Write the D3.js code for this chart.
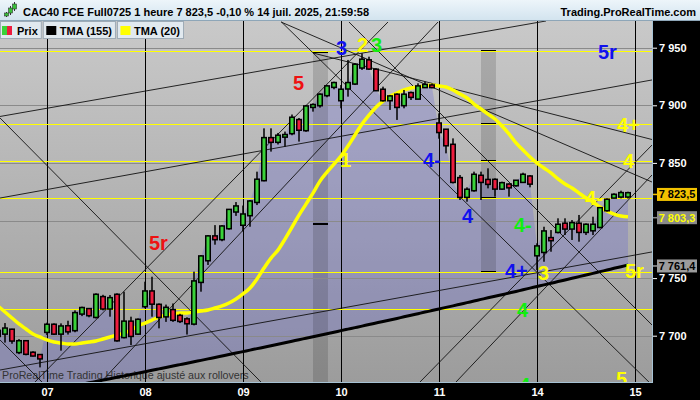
<!DOCTYPE html>
<html><head><meta charset="utf-8">
<script src="https://cdn.jsdelivr.net/npm/d3@7"></script>
<style>
html,body{margin:0;padding:0;background:#000;}
svg{display:block;}
text{font-family:"Liberation Sans",Arial,sans-serif;}
</style></head><body>
<svg id="c" width="700" height="400"></svg>
<script>
// ---------- DATA ----------
const titleText = "CAC40 FCE Full0725 1 heure 7 823,5 -0,10 % 14 juil. 2025, 21:59:58";
const siteText = "Trading.ProRealTime.com";
const legendItems = ["Prix", "TMA (155)", "TMA (20)"];
const watermark = "ProRealTime Trading  Historique ajusté aux rollovers";

const opens = [7700,7702,7705,7686,7695,7685,7683,7703.5,7709.3,7702,
 7708,7705,7719.4,7722.9,7716.5,7733.3,7723.8,7735.3,7699,7712,
 7702,7725.8,7738.2,7726.6,7717,7722,7717,7714,7710.7,7746.9,
 7765.7,7786,7784,7793.5,7808,7796.5,7804.8,7816.3,7835.2,7871.3,
 7868.5,7873,7876,7887,7878.6,7898.8,7900.3,7909,7916.2,7904.6,
 7914.8,7919.1,7933,7938.8,7930.7,7913.3,7904.6,7909,7900.3,7910.4,
 7906,7916,7917,7884,7878.6,7865.5,7836.6,7820.7,7826.5,7838.6,
 7835,7835.1,7827.9,7831,7830.8,7833.7,7838,7770,7772.9,7784.5,
 7790.3,7797,7793.2,7797,7790.3,7791.7,7794.6,7809.1,7820.1,7821,
 7821];
const highs = [7708,7711,7706,7697,7696,7686.5,7684,7711.3,7710.7,7710.7,
 7713,7722,7725.2,7724,7736.8,7735.5,7735.3,7736.8,7738.2,7716.5,
 7715,7746.9,7751.2,7728,7727,7728,7719,7716,7755.6,7770,
 7787.4,7796,7796,7810,7816,7813,7817.8,7842.4,7880,7880,
 7876,7877.2,7892,7889,7900.3,7901.7,7910.4,7917.5,7920.5,7917.6,
 7939.4,7936.5,7945.1,7942.2,7932.1,7916.2,7909,7910.4,7913.3,7911.9,
 7919.1,7920.5,7919,7893,7878.6,7871.3,7839.5,7828.8,7842.4,7842.4,
 7845.3,7836.6,7833.7,7832.2,7835.1,7841.5,7839.5,7780.2,7794.6,7791.7,
 7801.9,7801.9,7800.4,7804.8,7797.5,7803.3,7810.5,7819.2,7823.6,7825.9,
 7825];
const lows = [7696,7694,7693,7684,7683,7682,7672.5,7700.6,7700.6,7687,
 7701,7703,7717,7716,7715,7722,7716.5,7694.8,7697.7,7691.9,
 7700.6,7723.8,7716.5,7706.4,7712,7712,7711,7701,7709,7738.2,
 7761.4,7779,7782,7792,7804,7790.5,7794.6,7813.4,7834,7859.8,
 7866,7864.1,7874,7868.5,7877,7894.5,7898,7907,7913.9,7897.4,
 7907.5,7917.6,7930.7,7930.7,7913.3,7903.2,7896,7887.3,7897.4,7904.6,
 7906,7915,7914.8,7871,7858.3,7832.2,7817.8,7816.3,7825,7817.8,
 7827.9,7820.7,7826.5,7820.7,7829.4,7832.8,7828.8,7757,7764.2,7772.9,
 7788.8,7787.4,7783.1,7781.6,7787.4,7787.4,7793.2,7807.7,7819.2,7819.2,
 7819];
const closes = [7704,7706,7696,7695,7684.5,7683,7680.5,7709.3,7702,7707.8,
 7704,7719.4,7723.8,7718,7735.3,7723.8,7732.4,7696.2,7712,7700,
 7713.6,7738.2,7728,7716.5,7724,7714,7713,7711,7746.9,7768.6,
 7786,7784,7794.6,7809,7812,7805,7816.3,7835.2,7871.3,7868.5,
 7873.4,7874,7889,7879,7898.8,7900,7909,7916.2,7919.1,7913.3,
 7919.1,7935,7939.4,7932.1,7913.3,7904.6,7907.5,7898.8,7909,7907.5,
 7916.2,7917.5,7916,7877,7865.5,7833.7,7820.7,7826.5,7839.5,7833.7,
 7832,7827.9,7832.2,7829,7834.3,7839.5,7832.2,7777.3,7790.3,7783.1,
 7796.1,7793.2,7797.5,7790.3,7796.1,7796.1,7810.5,7817.8,7822.1,7823.6,
 7823.5];
const tma20 = [7725.8,7720.6,7715.4,7710.2,7705.8,7701.5,7698.9,7696.3,7694.5,7693.7,
 7692.8,7692.8,7693.7,7694.5,7695.4,7697.1,7698.9,7700.6,7702.3,7704.9,
 7708.4,7711.0,7713.6,7716.2,7717.9,7718.8,7719.7,7719.7,7720.6,7721.4,
 7722.3,7724.0,7725.8,7728.4,7731.8,7736.2,7741.4,7749.2,7758.7,7767.4,
 7774.3,7783.9,7794.3,7804.7,7814.2,7823.8,7834.2,7842.0,7849.0,7855.9,
 7864.6,7874.2,7883.7,7891.5,7898.4,7903.7,7908.0,7910.6,7913.3,7915.0,
 7915.9,7916.8,7917.6,7916.8,7915.9,7913.3,7909.8,7906.3,7901.1,7896.8,
 7892.4,7888.1,7882.0,7875.1,7867.3,7861.2,7855.1,7849.9,7845.6,7841.3,
 7836.1,7831.7,7828.2,7823.8,7819.5,7816.0,7811.7,7808.2,7805.6,7803.9,
 7803.3];
const tma155 = [7643.8,7645.0,7646.1,7647.3,7648.4,7649.6,7650.8,7651.9,7653.1,7654.3,
 7655.5,7656.7,7657.9,7659.1,7660.3,7661.5,7662.7,7663.9,7665.1,7666.3,
 7667.5,7668.7,7670.0,7671.2,7672.4,7673.7,7674.9,7676.1,7677.4,7678.6,
 7679.9,7681.1,7682.4,7683.7,7684.9,7686.2,7687.5,7688.8,7690.0,7691.3,
 7692.6,7693.9,7695.2,7696.5,7697.8,7699.1,7700.4,7701.7,7703.0,7704.4,
 7705.7,7707.0,7708.3,7709.7,7711.0,7712.3,7713.7,7715.0,7716.4,7717.7,
 7719.1,7720.5,7721.8,7723.2,7724.6,7725.9,7727.3,7728.7,7730.1,7731.5,
 7732.9,7734.2,7735.6,7737.0,7738.4,7739.9,7741.3,7742.7,7744.1,7745.5,
 7747.0,7748.4,7749.8,7751.3,7752.7,7754.1,7755.6,7757.0,7758.5,7759.9,
 7761.4];

const dayLabels = ["07","08","09","10","11","14","15"];
const dayStarts = [7,21,35,49,63,77,91];
const gridPrices = [7950,7900,7850,7800,7750,7700];
const labelPrices = [7950,7900,7850,7750,7700];
const levelLines = [7946.9,7883.5,7851.4,7819.3,7755.0,7722.9];
// trend lines: [index1, price1, index2, price2]
const trendLines = [
 [0.29,7890.3,78.29,7973.2],
 [0.29,7819.5,93.43,7922.0],
 [0.29,7670.2,93.43,7772.7],
 [0.29,7889.0,37.71,7658.9],
 [5.14,7658.9,55.71,7972.3],
 [14.57,7658.9,62.86,7972.3],
 [40.5,7972.3,93.14,7658.9],
 [50.14,7972.3,93.43,7709.3],
 [60.14,7658.9,93.43,7865.5],
 [65.29,7658.9,93.43,7839.5],
 [0.29,7696.3,6.43,7658.9],
 [40.43,7972.3,93.43,7833.4],
 [45,7945.4,93.43,7870.3]
];
// time zones: [startIndex, endIndex, topPrice, bottomPrice]
const bands = [[45,47.14,7946.3,7640],[69,71.14,7947,7755]];
const bandMarks = [[0,7946.3],[0,7796.9],[1,7947],[1,7883.5],[1,7851.4],[1,7819.3],[1,7755.0]];
// wave labels: text, colour, index, price (baseline)
const waveLabels = [
 ["5","#ee1111",42.14,7913.3],
 ["5r","#ee1111",21.57,7774.4],
 ["3","#1111ee",48.29,7943.7],
 ["2","#ffff00",51.29,7946.3],
 ["3","#11ee11",53.29,7946.3],
 ["1","#ffff00",48.86,7846.4],
 ["4-","#1111ee",60.71,7846.4],
 ["4","#1111ee",66.29,7797.8],
 ["4+","#ffff00",88.43,7876.8],
 ["4","#ffff00",89.29,7845.6],
 ["4-","#ffff00",83.86,7813.5],
 ["4-","#11ee11",73.71,7790.0],
 ["4+","#1111ee",72.43,7750.1],
 ["3","#ffff00",77.14,7748.4],
 ["5r","#ffff00",89.57,7750.1],
 ["5r","#1111ee",85.71,7940.2],
 ["4","#11ee11",74.14,7716.2],
 ["4","#11ee11",74.43,7651.5],
 ["5","#ffff00",88.29,7656.3]
];

// ---------- CHART ----------
const W = 700, H = 400, PR = 652, PT = 21, PB = 383;
const x = d3.scaleLinear().domain([0, 90]).range([-2, 628]);
const y = d3.scaleLinear().domain([7950, 7700]).range([47.7, 335.7]);
const loc = d3.formatLocale({decimal: ",", thousands: " ", grouping: [3], currency: ["", ""]});
const f0 = loc.format(",.0f"), f1 = loc.format(",.1f");
const FONT = '"Liberation Sans",Arial,sans-serif';

const svg = d3.select("#c");
const defs = svg.append("defs");
const bg = defs.append("linearGradient").attr("id","bg").attr("x1",0).attr("y1",0).attr("x2",0).attr("y2",1);
bg.append("stop").attr("offset","0%").attr("stop-color","#c9c9c9");
bg.append("stop").attr("offset","100%").attr("stop-color","#9c9c9c");
const tb = defs.append("linearGradient").attr("id","tb").attr("x1",0).attr("y1",0).attr("x2",0).attr("y2",1);
tb.append("stop").attr("offset","0%").attr("stop-color","#edf5fa");
tb.append("stop").attr("offset","100%").attr("stop-color","#d3e4ef");
defs.append("clipPath").attr("id","clip").append("rect")
  .attr("x",0).attr("y",PT).attr("width",PR).attr("height",PB-PT);

svg.append("rect").attr("width",W).attr("height",H).attr("fill","#000");
svg.append("rect").attr("x",0).attr("y",PT-1).attr("width",PR).attr("height",PB-PT+1).attr("fill","url(#bg)");

const g = svg.append("g").attr("clip-path","url(#clip)");
const idx = d3.range(closes.length);

// area between price and TMA155
g.append("path").datum(idx)
  .attr("d", d3.area().x(i=>x(i)).y0(i=>y(tma155[i])).y1(i=>y(closes[i])))
  .attr("fill","rgb(92,92,214)").attr("fill-opacity",0.27);

// time bands
g.selectAll(".band").data(bands).join("rect")
  .attr("x",d=>x(d[0])).attr("width",d=>x(d[1])-x(d[0]))
  .attr("y",d=>y(d[2])).attr("height",d=>y(d[3])-y(d[2]))
  .attr("fill","#000").attr("fill-opacity",0.14);
g.selectAll(".bm").data(bandMarks).join("rect")
  .attr("x",d=>x(bands[d[0]][0])).attr("width",d=>x(bands[d[0]][1])-x(bands[d[0]][0]))
  .attr("y",d=>Math.round(y(d[1]))-1).attr("height",2).attr("fill","#000");

// gridlines
g.selectAll(".grid").data(gridPrices).join("line")
  .attr("x1",0).attr("x2",PR).attr("y1",d=>Math.round(y(d))+0.5).attr("y2",d=>Math.round(y(d))+0.5)
  .attr("stroke","#8a8a8a").attr("stroke-width",1);

// watermark
g.append("text").attr("x",2).attr("y",379).text(watermark)
  .attr("font-size",10.7).attr("fill","#333").attr("font-family",FONT);

// day lines
g.selectAll(".day").data(dayStarts).join("line")
  .attr("x1",d=>Math.round(x(d))+0.5).attr("x2",d=>Math.round(x(d))+0.5)
  .attr("y1",PT).attr("y2",PB).attr("stroke","#000").attr("stroke-width",1);

// yellow level lines
g.selectAll(".lvl").data(levelLines).join("line")
  .attr("x1",0).attr("x2",PR).attr("y1",d=>Math.round(y(d))+0.5).attr("y2",d=>Math.round(y(d))+0.5)
  .attr("stroke","#ffff00").attr("stroke-width",1);

// trend lines
g.selectAll(".tl").data(trendLines).join("line")
  .attr("x1",d=>x(d[0])).attr("y1",d=>y(d[1])).attr("x2",d=>x(d[2])).attr("y2",d=>y(d[3]))
  .attr("stroke","#111").attr("stroke-width",0.9);

// TMA155
g.append("path").datum(idx)
  .attr("d", d3.line().x(i=>x(i)).y(i=>y(tma155[i])).curve(d3.curveMonotoneX))
  .attr("fill","none").attr("stroke","#000").attr("stroke-width",3);
// TMA20
g.append("path").datum(idx)
  .attr("d", d3.line().x(i=>x(i)).y(i=>y(tma20[i])).curve(d3.curveMonotoneX))
  .attr("fill","none").attr("stroke","#ffff00").attr("stroke-width",3.5);

// candles
const cg = g.append("g");
idx.forEach(i=>{
  const cx = x(i);
  const o = opens[i], c = closes[i];
  const top = y(Math.max(o,c)), bot = y(Math.min(o,c));
  cg.append("rect").attr("x",cx-0.75).attr("width",1.5)
    .attr("y",y(highs[i])).attr("height",Math.max(1,y(lows[i])-y(highs[i]))).attr("fill","#000");
  cg.append("rect").attr("x",cx-3).attr("width",6)
    .attr("y",top-1.5).attr("height",bot-top+3).attr("fill","#000");
  if (bot-top > 0.5) {
    cg.append("rect").attr("x",cx-1.5).attr("width",3)
      .attr("y",top).attr("height",bot-top)
      .attr("fill", c >= o ? "#3ad23a" : "#ee1c3e");
  }
});

// wave labels
g.selectAll(".wl").data(waveLabels).join("text")
  .attr("x",d=>x(d[2])).attr("y",d=>y(d[3])).text(d=>d[0])
  .attr("fill",d=>d[1]).attr("font-size",20).attr("font-weight","bold").attr("font-family",FONT);

// plot border
svg.append("line").attr("x1",PR+0.5).attr("x2",PR+0.5).attr("y1",PT).attr("y2",PB).attr("stroke","#a6c2d4");
svg.append("line").attr("x1",0).attr("x2",PR+1).attr("y1",PB-0.5).attr("y2",PB-0.5).attr("stroke","#a6c2d4");

// right axis
const ya = svg.append("g").attr("transform",`translate(${PR+1},0)`)
  .call(d3.axisRight(y).tickValues(labelPrices).tickSize(4).tickPadding(2).tickFormat(f0));
ya.select(".domain").remove();
ya.selectAll("line").attr("stroke","#fff");
ya.selectAll("text").attr("fill","#fff").attr("font-size",11).attr("font-weight","bold").attr("font-family",FONT);

// bottom axis
const xa = svg.append("g").attr("transform",`translate(0,${PB})`)
  .call(d3.axisBottom(x).tickValues(dayStarts).tickSize(0).tickPadding(5).tickFormat((d,k)=>dayLabels[k]));
xa.select(".domain").remove();
xa.selectAll("text").attr("fill","#fff").attr("font-size",11).attr("font-weight","bold").attr("font-family",FONT);

// current value markers
const marks = [
  {v: closes[closes.length-1], fill:"#f2c200", txt:"#000"},
  {v: tma20[tma20.length-1], fill:"#8a8a8a", txt:"#ffff00"},
  {v: tma155[tma155.length-1], fill:"#9c9c9c", txt:"#000"}
];
marks.forEach(m=>{
  const yy = y(m.v)+1;
  svg.append("line").attr("x1",PR+1).attr("x2",657).attr("y1",yy).attr("y2",yy).attr("stroke",m.fill).attr("stroke-width",1.5);
  svg.append("rect").attr("x",657).attr("y",yy-6.5).attr("width",40).attr("height",13).attr("fill",m.fill);
  svg.append("text").attr("x",677).attr("y",yy+4).attr("text-anchor","middle").text(f1(m.v))
    .attr("fill",m.txt).attr("font-size",11).attr("font-weight","bold").attr("font-family",FONT);
});

// title bar
svg.append("rect").attr("x",0).attr("y",0).attr("width",W).attr("height",20).attr("fill","url(#tb)");
svg.append("line").attr("x1",0).attr("x2",W).attr("y1",20.5).attr("y2",20.5).attr("stroke","#8ea6b8");
// icon
[[6,12,17,13,16],[10,6,15,8,13],[14,2,11,4,9]].forEach(c=>{
  svg.append("rect").attr("x",c[0]).attr("y",c[1]).attr("width",1).attr("height",c[2]-c[1]).attr("fill","#333");
  svg.append("rect").attr("x",c[0]-1.5).attr("y",c[3]).attr("width",4).attr("height",c[4]-c[3]).attr("fill","#3ac03a").attr("stroke","#333").attr("stroke-width",0.6);
});
svg.append("text").attr("x",23).attr("y",15.5).text(titleText)
  .attr("font-size",11).attr("font-weight","bold").attr("fill","#000").attr("font-family",FONT);
svg.append("text").attr("x",696).attr("y",15.5).attr("text-anchor","end").text(siteText)
  .attr("font-size",11).attr("font-weight","bold").attr("fill","#000").attr("font-family",FONT);

// legend
let lx = 0;
legendItems.forEach((lab,k)=>{
  const gi = svg.append("g");
  const box = gi.append("rect");
  const t = gi.append("text").attr("x",lx+17).attr("y",34.5).text(lab)
    .attr("font-size",11).attr("font-weight","bold").attr("fill","#000").attr("font-family",FONT);
  const w = 17 + t.node().getComputedTextLength() + 4;
  box.attr("x",lx+0.5).attr("y",21.5).attr("width",w-1).attr("height",17)
    .attr("fill","#e1e9ef").attr("stroke","#9eabb6");
  if (k === 0) {
    gi.append("rect").attr("x",lx+2).attr("y",26).attr("width",5).attr("height",9).attr("fill","#3ad23a");
    gi.append("rect").attr("x",lx+7).attr("y",26).attr("width",5).attr("height",9).attr("fill","#ee1c3e");
  } else {
    gi.append("rect").attr("x",lx+3.5).attr("y",26).attr("width",10).attr("height",9)
      .attr("fill", k === 1 ? "#000" : "#ffff00");
  }
  lx += w + 1;
});
</script>
</body></html>
